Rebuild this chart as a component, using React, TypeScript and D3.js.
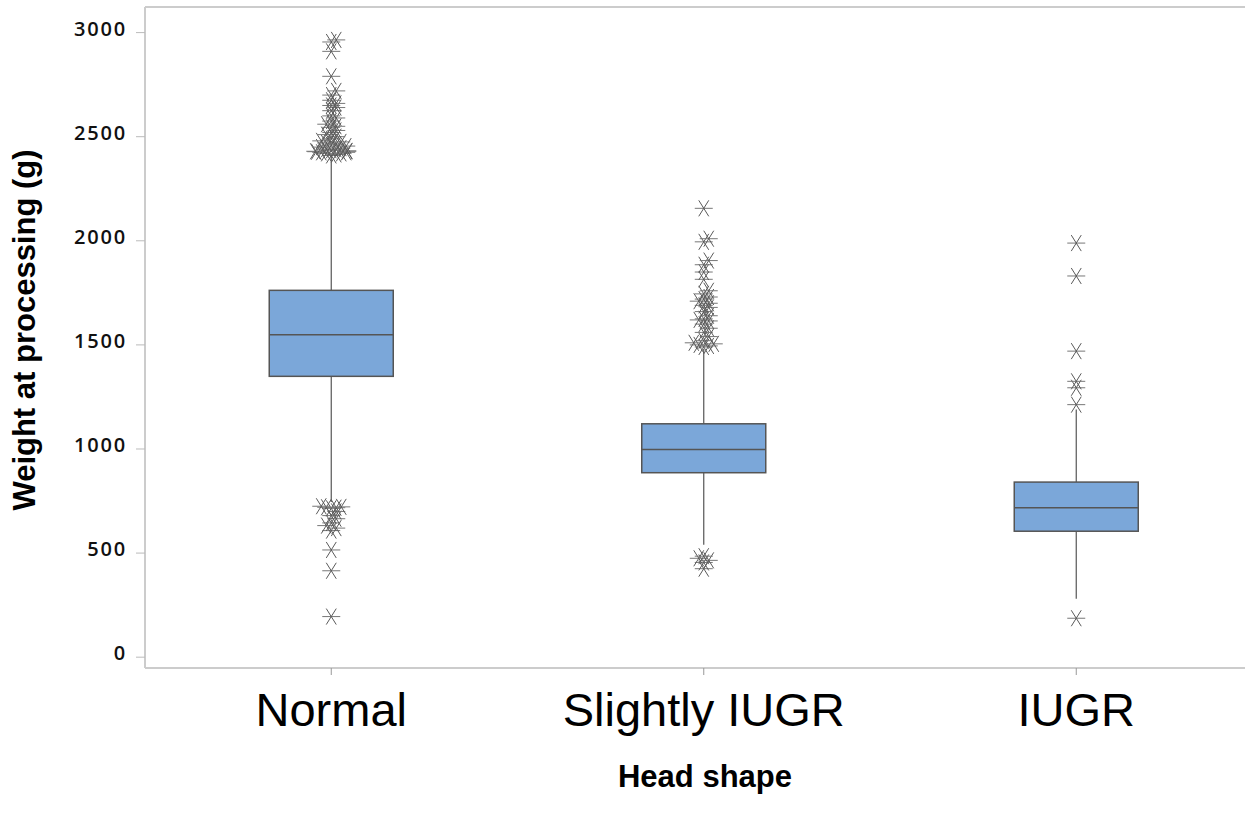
import React from "react";
import * as d3 from "d3";

const categories = ["Normal", "Slightly IUGR", "IUGR"];
const q1 = [1349, 886, 605];
const medians = [1549, 998, 718];
const q3 = [1762, 1121, 841];
const whiskerLow = [745, 540, 281];
const whiskerHigh = [2405, 1480, 1190];

const outliersNormal = [
  2410, 2415, 2420, 2420, 2425, 2425, 2428, 2430, 2430, 2432, 2435, 2440, 2440, 2445,
  2450, 2455, 2460, 2465, 2470, 2475, 2480, 2490, 2500, 2510, 2520, 2530, 2545, 2550,
  2560, 2575, 2590, 2600, 2625, 2640, 2650, 2660, 2675, 2700, 2720, 2790, 2910, 2955, 2965,
  725, 722, 720, 718, 715, 700, 680, 665, 645, 632, 620, 608, 515, 415, 195,
];
const outliersSlightly = [
  2156, 2010, 1995, 1905, 1885, 1850, 1815, 1760, 1745, 1730, 1720, 1710, 1700, 1690,
  1680, 1660, 1640, 1625, 1620, 1615, 1600, 1580, 1560, 1540, 1520, 1510, 1505, 1500,
  1495, 1490, 485, 475, 465, 455, 425,
];
const outliersIUGR = [1989, 1831, 1470, 1325, 1294, 1213, 187];
const outliers = [outliersNormal, outliersSlightly, outliersIUGR];

const yTicks = [0, 500, 1000, 1500, 2000, 2500, 3000];

const W = 1245;
const H = 822;
const left = 145;
const top = 7;
const bottom = 668;

function jitter(values: number[], y: (v: number) => number) {
  const sorted = [...values].sort((a, b) => a - b);
  const res: { v: number; dx: number }[] = [];
  let group: number[] = [];
  const flush = () => {
    group.forEach((v, i) => {
      const k = Math.ceil(i / 2);
      const sign = i % 2 === 1 ? 1 : -1;
      const dx = Math.min(k * 5, 16) * sign;
      res.push({ v, dx });
    });
    group = [];
  };
  sorted.forEach((v) => {
    if (group.length && Math.abs(y(v) - y(group[0])) > 5) flush();
    group.push(v);
  });
  flush();
  return res;
}

function Star({ x, y }: { x: number; y: number }) {
  return (
    <g transform={`translate(${x},${y})`} stroke="#5a5a5a" strokeWidth={1} fill="none">
      <line x1={-9} y1={0} x2={9} y2={0} stroke="#777" />
      <line x1={-5} y1={-8} x2={5} y2={8} />
      <line x1={5} y1={-8} x2={-5} y2={8} />
    </g>
  );
}

export default function App() {
  const y = d3.scaleLinear().domain([-52, 3123]).range([bottom, top]);
  const x = d3.scaleBand<string>().domain(categories).range([left, left + 3 * 372.5]).padding(0);
  const half = 62;
  const tickFmt = d3.format("d");

  return (
    <svg width={W} height={H} style={{ position: "absolute", left: 0, top: 0, background: "#fff" }}>
      {/* frame */}
      <line x1={left} y1={top} x2={W} y2={top} stroke="#cccccc" strokeWidth={2} />
      <line x1={left} y1={top} x2={left} y2={bottom} stroke="#cccccc" strokeWidth={2} />
      <line x1={left} y1={bottom} x2={W} y2={bottom} stroke="#cccccc" strokeWidth={2} />

      {/* y ticks */}
      {yTicks.map((t) => (
        <g key={t}>
          <line x1={136} x2={left} y1={y(t)} y2={y(t)} stroke="#bbbbbb" strokeWidth={1} />
          <text
            x={127}
            y={y(t) + 3}
            textAnchor="end"
            fontFamily="'Open Sans', sans-serif"
            fontWeight={600}
            fontSize={20}
            letterSpacing={1.8}
            fill="#111"
          >
            {tickFmt(t)}
          </text>
        </g>
      ))}

      {/* x ticks + labels */}
      {categories.map((c) => {
        const cx = x(c)! + x.bandwidth() / 2;
        return (
          <g key={c}>
            <line x1={cx} x2={cx} y1={bottom} y2={bottom + 7} stroke="#999" strokeWidth={1} />
            <text
              x={cx}
              y={726}
              textAnchor="middle"
              fontFamily="'Liberation Sans', Arial, sans-serif"
              fontSize={47}
              fill="#000"
            >
              {c}
            </text>
          </g>
        );
      })}

      {/* boxes */}
      {categories.map((c, i) => {
        const cx = x(c)! + x.bandwidth() / 2;
        return (
          <g key={c}>
            <line x1={cx} x2={cx} y1={y(whiskerHigh[i])} y2={y(q3[i])} stroke="#555" strokeWidth={1.2} />
            <line x1={cx} x2={cx} y1={y(q1[i])} y2={y(whiskerLow[i])} stroke="#555" strokeWidth={1.2} />
            <rect
              x={cx - half}
              y={y(q3[i])}
              width={half * 2}
              height={y(q1[i]) - y(q3[i])}
              fill="#7BA7D9"
              stroke="#555"
              strokeWidth={1.5}
            />
            <line x1={cx - half} x2={cx + half} y1={y(medians[i])} y2={y(medians[i])} stroke="#555" strokeWidth={1.5} />
            {jitter(outliers[i], y).map((o, j) => (
              <Star key={j} x={cx + o.dx} y={y(o.v)} />
            ))}
          </g>
        );
      })}

      {/* axis titles */}
      <text
        x={705}
        y={787}
        textAnchor="middle"
        fontFamily="'Liberation Sans', Arial, sans-serif"
        fontWeight="bold"
        fontSize={31}
        fill="#000"
      >
        Head shape
      </text>
      <text
        transform={`translate(35,330) rotate(-90)`}
        textAnchor="middle"
        fontFamily="'Liberation Sans', Arial, sans-serif"
        fontWeight="bold"
        fontSize={31}
        fill="#000"
      >
        Weight at processing (g)
      </text>
    </svg>
  );
}
